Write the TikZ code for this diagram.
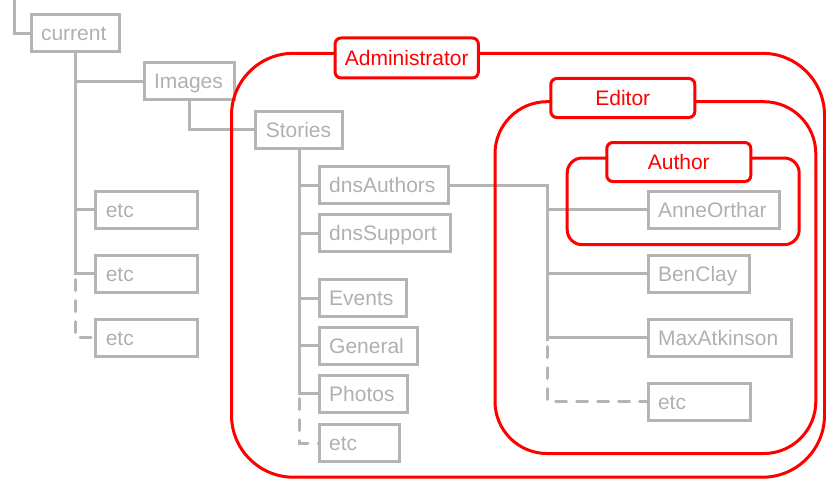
\documentclass[tikz,border=0pt]{standalone}
\usepackage{fontspec}
\setmainfont{Liberation Sans}
\definecolor{gline}{RGB}{180,180,180}
\definecolor{gtext}{RGB}{176,176,176}
\definecolor{rline}{RGB}{255,0,0}
\tikzset{
  gl/.style={draw=gline, line width=3pt},
  gd/.style={draw=gline, line width=3pt, line cap=round, dash pattern=on 11pt off 10pt},
  gb/.style={draw=gline, line width=3pt, text=gtext, font=\fontsize{21}{25}\selectfont,
    anchor=west, align=left, inner xsep=10pt, inner ysep=0pt, outer sep=0pt,
    minimum height=37pt, text height=19pt, text depth=4pt},
  rgroup/.style={draw=rline, line width=3pt},
  rlabel/.style={draw=rline, line width=3pt, fill=white, text=rline, rounded corners=6pt,
    font=\fontsize{21}{25}\selectfont, inner sep=0pt, outer sep=0pt,
    text height=19pt, text depth=4pt}
}
\begin{document}
\begin{tikzpicture}[x=1pt, y=-1pt]
\useasboundingbox (0,0) rectangle (826,484);

% gray folder boxes
\node[gb, text width=68pt]    (current) at (31,33.5)    {current};
\node[gb, text width=70.5pt]  (images)  at (144,81.3)   {Images};
\node[gb, text width=67pt]    (stories) at (255.8,129.6){Stories};
\node[gb, text width=81.7pt]  (etca)    at (95.8,209.7) {etc};
\node[gb, text width=81.7pt]  (etcb)    at (95.8,273.7) {etc};
\node[gb, text width=81.7pt]  (etcc)    at (95.8,337.5) {etc};
\node[gb, text width=109.3pt] (dnsauth) at (319.2,185)  {dnsAuthors};
\node[gb, text width=110.8pt] (dnssup)  at (319.2,233.4){dnsSupport};
\node[gb, text width=67.3pt]  (events)  at (319.2,298)  {Events};
\node[gb, text width=77.8pt]  (general) at (319.2,345.8){General};
\node[gb, text width=67.8pt]  (photos)  at (319.2,393.7){Photos};
\node[gb, text width=60.3pt]  (etcs)    at (319.2,443)  {etc};
\node[gb, text width=111.5pt] (anne)    at (648,209.7)  {AnneOrthar};
\node[gb, text width=81.5pt]  (ben)     at (648,273.5)  {BenClay};
\node[gb, text width=123pt]   (max)     at (648,337.5)  {MaxAtkinson};
\node[gb, text width=82pt]    (etce)    at (648,401.7)  {etc};

% free ends / junctions
\coordinate (top) at (14.7,0);
\coordinate (jx) at (547.7,0);

% connectors: current
\draw[gl] (top) |- (current.west);
\draw[gl] (current.south) -- (current.south |- etcb.west) -- (etcb.west);
\draw[gl] (current.south |- images.west) -- (images.west);
\draw[gl] (current.south |- etca.west) -- (etca.west);
\draw[gd] (current.south |- etcb.west) ++(0,6) -- (current.south |- etcc.west) -- (etcc.west);

% Images -> Stories
\draw[gl] (images.south) |- (stories.west);

% Stories children
\draw[gl] (stories.south) -- (stories.south |- photos.west) -- (photos.west);
\draw[gl] (stories.south |- dnsauth.west) -- (dnsauth.west);
\draw[gl] (stories.south |- dnssup.west) -- (dnssup.west);
\draw[gl] (stories.south |- events.west) -- (events.west);
\draw[gl] (stories.south |- general.west) -- (general.west);
\draw[gd] (stories.south |- photos.west) ++(0,5) -- (stories.south |- etcs.west) -- (etcs.west);

% dnsAuthors children
\draw[gl] (dnsauth.east) -| (jx |- max.west) -- (max.west);
\draw[gl] (jx |- anne.west) -- (anne.west);
\draw[gl] (jx |- ben.west) -- (ben.west);
\draw[gl] (jx |- max.west) -- ++(0,3);
\draw[gd] (jx |- max.west) ++(0,9) -- (jx |- etce.west) -- (etce.west);

% red role groups
\draw[rgroup, rounded corners=62pt] (231.5,53.3) rectangle (824.5,477.2);
\draw[rgroup, rounded corners=52pt] (495,101.7) rectangle (815.8,453.5);
\draw[rgroup, rounded corners=15pt] (567.2,158) rectangle (799.2,244.7);

% red labels
\node[rlabel, minimum width=143.3pt, minimum height=40pt] (admin)  at (406.7,58)   {Administrator};
\node[rlabel, minimum width=144pt,   minimum height=39pt] (editor) at (622.8,98)   {Editor};
\node[rlabel, minimum width=144pt,   minimum height=39pt] (author) at (678.8,162)  {Author};
\end{tikzpicture}
\end{document}
